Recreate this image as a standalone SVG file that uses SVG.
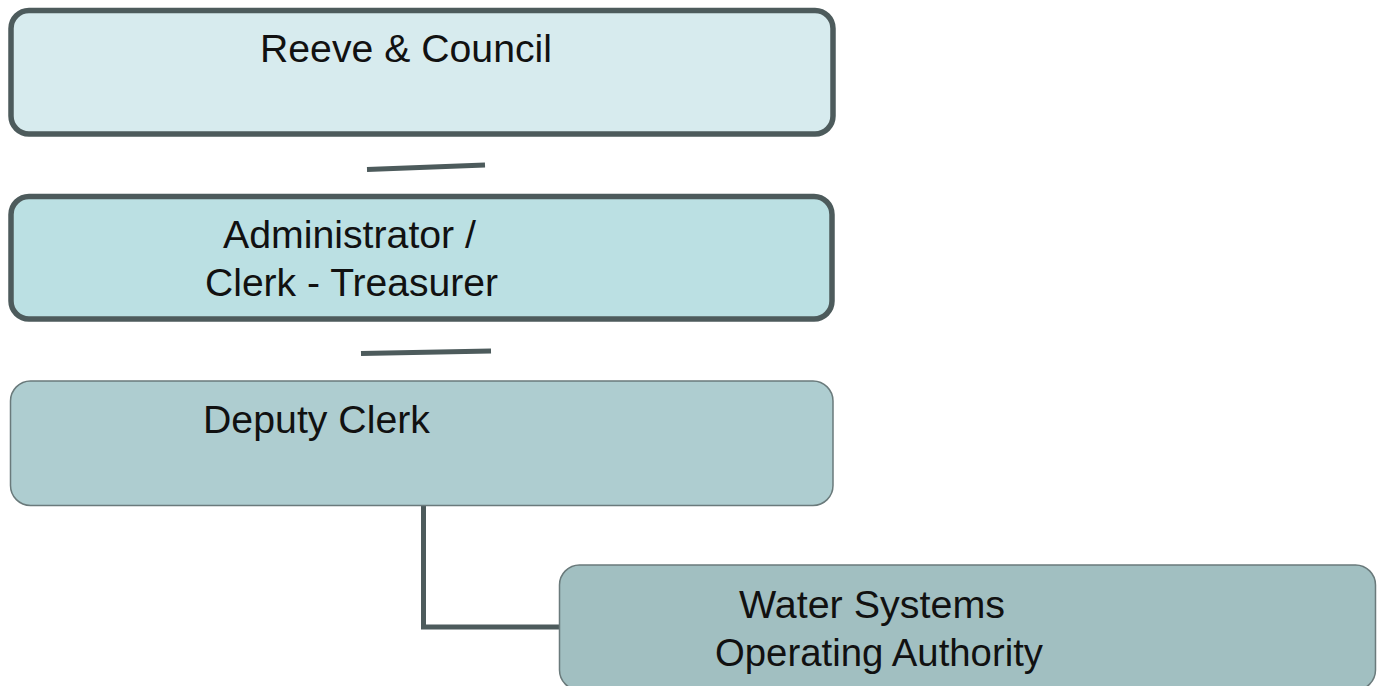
<svg xmlns="http://www.w3.org/2000/svg" width="1377" height="686" viewBox="0 0 1377 686">
<style>
  .lbl { font-family: "Liberation Sans", Arial, sans-serif; font-size: 38px; fill: #111; }
  .thick { stroke: #4d5b5c; stroke-width: 5.5; }
  .thin { stroke: #6a7a7b; stroke-width: 1.5; }
  .conn { stroke: #4d5b5c; stroke-width: 5; fill: none; stroke-linecap: butt; }
</style>
<rect width="1377" height="686" fill="#ffffff"/>
<g id="connectors">
  <line class="conn" x1="367" y1="169.5" x2="485" y2="165" stroke-linecap="round"/>
  <line class="conn" x1="361" y1="353.5" x2="491" y2="351" stroke-linecap="round"/>
  <polyline class="conn" points="423.5,506 423.5,627 560,627"/>
</g>
<g id="reeve-council">
  <rect class="thick" x="11" y="10.5" width="822" height="123.5" rx="18" fill="#d7ebee"/>
  <text class="lbl" x="260" y="62" textLength="292" lengthAdjust="spacingAndGlyphs">Reeve &amp; Council</text>
</g>
<g id="administrator">
  <rect class="thick" x="11" y="196.5" width="821" height="122.5" rx="18" fill="#bbe0e3"/>
  <text class="lbl" x="223" y="248" textLength="253" lengthAdjust="spacingAndGlyphs">Administrator /</text>
  <text class="lbl" x="205" y="296" textLength="293" lengthAdjust="spacingAndGlyphs">Clerk - Treasurer</text>
</g>
<g id="deputy-clerk">
  <rect class="thin" x="10.5" y="381" width="822.5" height="124.5" rx="20" fill="#aecdd0"/>
  <text class="lbl" x="203" y="433" textLength="227" lengthAdjust="spacingAndGlyphs">Deputy Clerk</text>
</g>
<g id="water-systems">
  <rect class="thin" x="559.5" y="565" width="816" height="125" rx="20" fill="#a1bfc1"/>
  <text class="lbl" x="739" y="618" textLength="266" lengthAdjust="spacingAndGlyphs">Water Systems</text>
  <text class="lbl" x="715" y="666" textLength="328" lengthAdjust="spacingAndGlyphs">Operating Authority</text>
</g>
</svg>
